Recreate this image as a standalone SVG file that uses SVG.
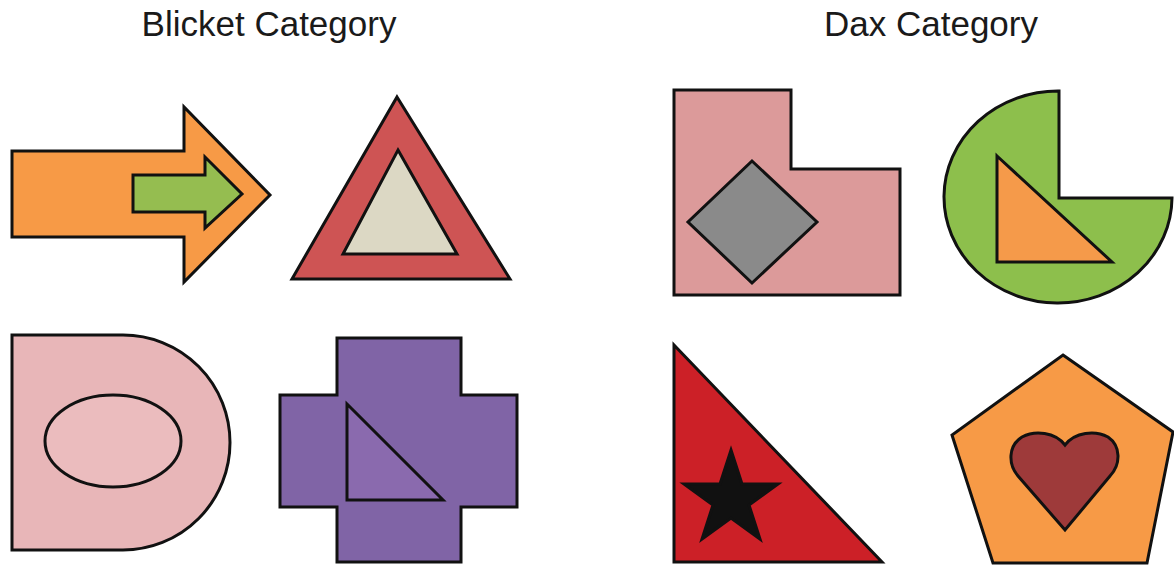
<svg xmlns="http://www.w3.org/2000/svg" width="1174" height="565" viewBox="0 0 1174 565">
<style>
.s{stroke:#111;stroke-width:3;stroke-linejoin:miter}
.t{font-family:"Liberation Sans",Arial,sans-serif;font-size:35px;fill:#1a1a1a;text-anchor:middle}
</style>
<rect width="1174" height="565" fill="#fff"/>
<text class="t" x="269" y="36">Blicket Category</text>
<text class="t" x="931" y="36">Dax Category</text>
<g id="arrow">
<polygon class="s" fill="#F79A46" points="12,151 184,151 184,107 270,195 184,282 184,237 12,237"/>
<polygon class="s" fill="#95BD50" points="133,175 205,175 205,157 242,194 205,228 205,212 133,212"/>
</g>
<g id="triangle">
<polygon class="s" fill="#CE5454" points="397,97 510,279 292,279"/>
<polygon class="s" fill="#DCD8C4" points="398,150 457,254 343,254"/>
</g>
<g id="lshape">
<polygon class="s" fill="#DC9A9A" points="674,90 791,90 791,169 900,169 900,295 674,295"/>
<polygon class="s" fill="#8A8A8A" points="752,161 817,222 752,283 688,222"/>
</g>
<g id="pie">
<path class="s" fill="#8DBF4C" d="M1059,91 L1059,198 L1172,198 A114,106 0 1 1 1059,91 Z"/>
<polygon class="s" fill="#F59A4A" points="997,156 1112,262 997,262"/>
</g>
<g id="dshape">
<path class="s" fill="#E8B6B8" d="M12,335 L123,335 A107,107.5 0 0 1 123,550 L12,550 Z"/>
<ellipse class="s" fill="#EBBCBE" cx="113" cy="441" rx="68" ry="46"/>
</g>
<g id="cross">
<polygon class="s" fill="#8064A6" points="337,338 461,338 461,395 517,395 517,507 461,507 461,562 337,562 337,507 280,507 280,395 337,395"/>
<polygon class="s" fill="#8A6AAE" points="347,404 443,500 347,500"/>
</g>
<g id="redtriangle">
<polygon class="s" fill="#CC2027" points="674,345 882,562 674,562"/>
<polygon class="s" fill="#111" stroke-width="1.5" points="731,450 742,484 778,484 749,505 760,539 731,518 702,539 713,505 684,484 720,484"/>
</g>
<g id="pentagon">
<polygon class="s" fill="#F79A46" points="1063,355 1173,432 1147,563 993,563 952,435"/>
<path class="s" fill="#9E3A3A" d="M1065,445 C1055,432 1035,430 1022,437 C1008,446 1008,464 1018,476 L1065,530 L1110,476 C1121,464 1121,446 1108,437 C1095,430 1075,432 1065,445 Z"/>
</g>
</svg>
